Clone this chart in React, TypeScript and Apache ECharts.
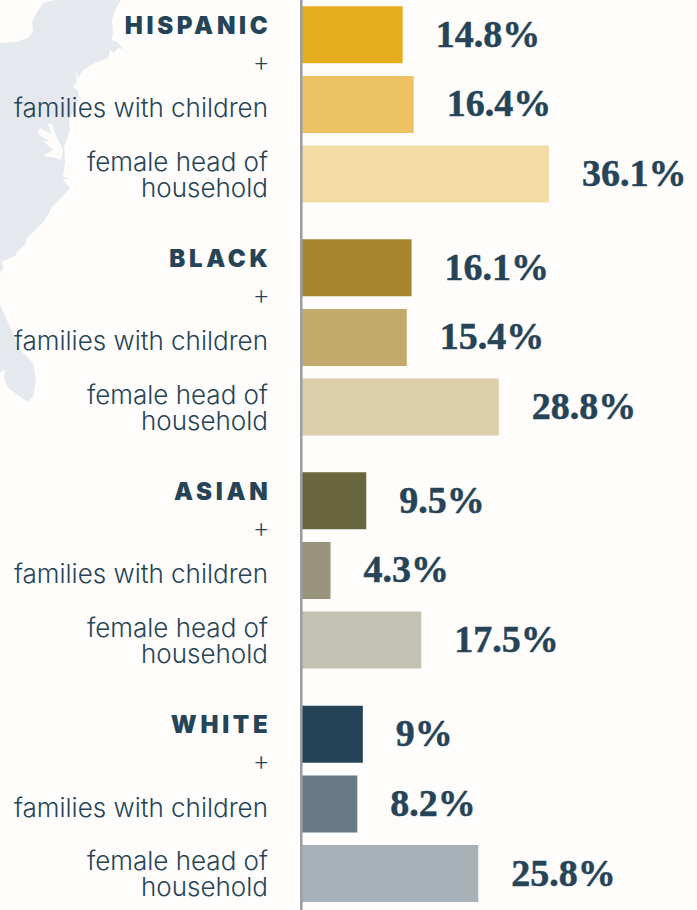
import React, { useEffect, useRef } from "react";
import * as echarts from "echarts";

const groups = ["HISPANIC", "BLACK", "ASIAN", "WHITE"];
const familiesLabel = "families with children";
const femaleHeadLabel = "female head of\nhousehold";

const hispanicValues = [14.8, 16.4, 36.1];
const blackValues = [16.1, 15.4, 28.8];
const asianValues = [9.5, 4.3, 17.5];
const whiteValues = [9, 8.2, 25.8];
const groupValues = [hispanicValues, blackValues, asianValues, whiteValues];

const hispanicColors = ["#e6ac20", "#edc263", "#f5dba5"];
const blackColors = ["#a8862f", "#c1aa6b", "#ddcfa9"];
const asianColors = ["#69653d", "#98937a", "#c3c1b2"];
const whiteColors = ["#254257", "#677a86", "#a9b1b8"];
const groupColors = [hispanicColors, blackColors, asianColors, whiteColors];

const ink = "#264457";
const landColor = "#e5e9ed";
const paper = "#fefdfc";

// Atlantic seaboard backdrop
const seaboard = [
  [0, 43], [17, 42], [28, 38], [33, 32], [32, 22], [37, 12], [43, 3], [55, 0], [121, 0],
  [115, 10], [112, 20], [113, 32], [112, 40], [117, 42], [123, 49], [118, 48], [114, 53],
  [110, 50], [108, 58], [95, 63], [83, 70], [78, 78], [75, 69], [77, 82], [73, 87], [78, 90],
  [79, 97], [75, 110], [69, 120], [70, 130], [64, 147], [65, 162], [63, 177], [69, 178],
  [63, 180], [70, 188], [62, 197], [52, 207], [45, 220], [35, 230], [27, 238], [25, 245],
  [17, 252], [16, 255], [7, 260], [2, 261], [3, 268], [0, 273],
];
const florida = [
  [0, 305], [10, 327], [17, 343], [23, 353], [33, 363], [36, 380], [33, 397], [28, 402],
  [22, 398], [8, 388], [4, 378], [5, 370], [0, 372],
];
const chesapeake = [
  [48, 124], [51, 134], [40, 128], [38, 134], [50, 142], [43, 141], [53, 150], [43, 156],
  [56, 158], [61, 160], [63, 150], [56, 136], [52, 124],
];

const groupTops = [0, 233, 466, 699.5];
const rowPitch = 69.6;
const pxPerPoint = 6.87;
const axisX = 301;
const axisMax = 50;

export default function App() {
  const ref = useRef<HTMLDivElement>(null);

  useEffect(() => {
    document.body.style.margin = "0";
    document.body.style.background = paper;
    const chart = echarts.init(ref.current!, null, { renderer: "svg" });

    const rich = {
      h: { fontFamily: "Inter", fontWeight: 900, fontSize: 24, color: ink, padding: [0, 0, 19, 0] },
      p: { fontFamily: "Roboto", fontWeight: 300, fontSize: 24, color: ink, lineHeight: 7, align: "right" },
      f: { fontFamily: "Inter", fontWeight: 300, fontSize: 26, color: ink, lineHeight: 81, align: "right" },
      l: { fontFamily: "Inter", fontWeight: 300, fontSize: 26, color: ink, lineHeight: 26, align: "right" },
    };

    chart.setOption({
      animation: false,
      backgroundColor: paper,
      grid: groupTops.map((top) => ({
        left: axisX,
        top,
        width: axisMax * pxPerPoint,
        height: rowPitch * 3,
      })),
      xAxis: groupTops.map((_, i) => ({
        type: "value",
        gridIndex: i,
        min: 0,
        max: axisMax,
        show: false,
      })),
      yAxis: groups.map((name, i) => ({
        type: "category",
        gridIndex: i,
        inverse: true,
        z: 5,
        data: [name, familiesLabel, femaleHeadLabel],
        axisLine: { show: false },
        axisTick: { show: false },
        axisLabel: {
          margin: 33,
          align: "right",
          rich,
          formatter: (value: string, idx: number) => {
            if (idx === 0) return `{h|${value}}`;
            if (idx === 1) return `{p|+}\n{f|${value}}`;
            return value.split("\n").map((line) => `{l|${line}}`).join("\n");
          },
        },
      })),
      series: groupValues.map((values, i) => ({
        type: "bar",
        xAxisIndex: i,
        yAxisIndex: i,
        barWidth: 57,
        data: values.map((value, j) => ({
          value,
          itemStyle: { color: groupColors[i][j] },
        })),
        label: {
          show: true,
          position: "right",
          distance: 33,
          offset: [0, -1],
          formatter: "{c}%",
          fontFamily: "Liberation Serif",
          fontWeight: 700,
          fontSize: 38,
          color: ink,
          textBorderColor: ink,
          textBorderWidth: 0.5,
        },
      })),
      graphic: [
        { type: "polygon", z: 0, silent: true, shape: { points: seaboard }, style: { fill: landColor } },
        { type: "polygon", z: 0, silent: true, shape: { points: florida }, style: { fill: landColor } },
        { type: "polygon", z: 0, silent: true, shape: { points: chesapeake }, style: { fill: paper } },
        {
          type: "rect",
          z: 10,
          silent: true,
          shape: { x: axisX - 1, y: 0, width: 2.6, height: 910 },
          style: { fill: "#9b9fa3" },
        },
      ],
    });

    // Tracked-out group headings: the SVG text nodes take letter-spacing directly,
    // and dx cancels the trailing space so the right edge stays flush with the labels.
    ref.current!.querySelectorAll("text").forEach((node) => {
      if (groups.includes(node.textContent ?? "")) {
        (node as SVGTextElement).style.letterSpacing = "3.7px";
        node.setAttribute("dx", "3.4");
      }
    });

    return () => chart.dispose();
  }, []);

  return <div ref={ref} style={{ width: 697, height: 910 }} />;
}
